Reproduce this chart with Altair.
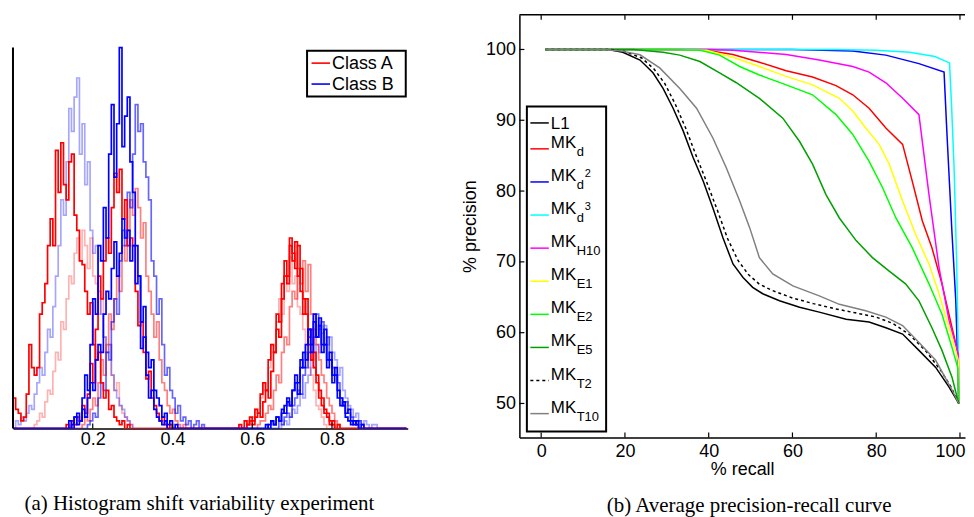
import altair as alt
import pandas as pd
import numpy as np

# ---------------- Panel (a): histogram bin counts ----------------
BIN_W = 1 / 150
N_BINS = 148
hist_class = ["Class A", "Class B", "Class A", "Class B", "Class A", "Class A", "Class B", "Class B"]
hist_alpha = [0.3, 0.35, 0.5, 0.6, 1.0, 1.0, 1.0, 1.0]
left_start = [8, 1, 26, 28, 20, 0, 22, 21]
left_counts = [
    [1, 2, 4, 3, 7, 10, 9, 15, 20, 18, 28, 26, 34, 40, 38, 46, 50, 44, 52, 48, 42, 50, 40, 38, 30, 34, 24, 20, 22, 14, 10, 12, 6, 4, 3, 2, 1],
    [2, 1, 3, 2, 4, 6, 5, 9, 12, 16, 14, 20, 26, 24, 32, 40, 48, 60, 56, 70, 84, 78, 87, 92, 72, 80, 64, 70, 52, 46, 48, 36, 30, 24, 20, 22, 14, 10, 8, 6, 5, 3, 2, 1],
    [1, 3, 2, 5, 8, 6, 12, 18, 14, 22, 30, 26, 34, 40, 36, 48, 44, 52, 60, 56, 63, 58, 50, 54, 40, 36, 30, 24, 28, 18, 12, 10, 6, 4, 5, 2, 1, 0, 1],
    [1, 2, 4, 3, 8, 12, 10, 20, 18, 28, 34, 30, 44, 52, 48, 62, 58, 72, 85, 78, 80, 70, 66, 60, 44, 40, 30, 34, 22, 14, 16, 10, 8, 4, 6, 2, 3, 1, 2, 0, 1, 2, 0, 1],
    [1, 0, 2, 1, 3, 2, 6, 4, 9, 17, 12, 26, 40, 34, 44, 50, 46, 58, 67, 62, 68, 55, 60, 48, 50, 48, 36, 27, 28, 20, 13, 15, 8, 6, 4, 2, 3, 1, 0, 1],
    [8, 5, 4, 2, 3, 9, 22, 16, 14, 16, 30, 33, 38, 48, 55, 48, 73, 62, 75, 64, 60, 70, 72, 56, 52, 44, 43, 36, 30, 33, 22, 18, 20, 12, 8, 10, 5, 6, 3, 2, 1, 2, 0, 1],
    [1, 3, 1, 2, 5, 3, 8, 12, 10, 18, 22, 20, 30, 36, 34, 42, 49, 40, 46, 55, 50, 52, 44, 48, 38, 40, 28, 32, 20, 16, 18, 10, 8, 6, 3, 4, 1, 2, 0, 1],
    [2, 0, 3, 4, 2, 8, 14, 10, 22, 34, 30, 48, 44, 58, 50, 72, 85, 66, 80, 100, 74, 82, 87, 70, 62, 48, 40, 21, 24, 14, 8, 10, 5, 3, 2, 1, 2],
]
right_start = [88, 101, 92, 100, 88, 85, 96, 95]
right_counts = [
    [2, 1, 3, 5, 4, 8, 12, 10, 16, 22, 20, 28, 34, 30, 40, 36, 45, 38, 40, 32, 30, 26, 20, 16, 14, 10, 6, 5, 3, 1],
    [1, 2, 1, 3, 5, 4, 6, 9, 8, 12, 14, 18, 16, 22, 20, 25, 27, 22, 24, 20, 18, 14, 16, 10, 8, 6, 5, 3, 4, 2, 1, 2, 1, 0, 1, 1],
    [1, 2, 2, 4, 6, 5, 10, 14, 12, 20, 24, 22, 32, 36, 34, 42, 38, 44, 36, 43, 30, 26, 22, 18, 14, 12, 8, 6, 4, 2, 1],
    [2, 1, 3, 4, 3, 6, 8, 10, 9, 14, 16, 20, 18, 24, 30, 26, 28, 22, 24, 18, 16, 14, 12, 8, 6, 7, 4, 3, 2, 1, 2, 1],
    [1, 2, 1, 3, 4, 3, 7, 10, 8, 15, 20, 26, 24, 34, 40, 38, 48, 44, 49, 40, 42, 34, 30, 24, 26, 16, 14, 10, 8, 5, 4, 2, 1],
    [1, 0, 2, 1, 3, 2, 5, 4, 9, 12, 10, 18, 22, 20, 30, 28, 38, 44, 40, 50, 46, 42, 48, 36, 30, 34, 22, 18, 20, 12, 8, 6, 4, 3, 1, 2, 0, 1],
    [1, 2, 1, 3, 2, 5, 4, 7, 6, 10, 12, 9, 16, 20, 18, 26, 22, 30, 24, 27, 20, 22, 16, 18, 12, 14, 8, 6, 7, 3, 2, 1, 2, 1],
    [1, 0, 2, 1, 3, 2, 4, 6, 8, 6, 10, 14, 12, 18, 16, 22, 26, 20, 28, 24, 29, 22, 26, 18, 20, 14, 16, 10, 8, 6, 4, 5, 2, 1, 2, 0, 1],
]
hist_ticks = [0.2, 0.4, 0.6, 0.8]
hist_legend = ["Class A", "Class B"]

# ---------------- Panel (b): precision-recall curves ----------------
curve_names = ["L1", "MKd", "MKd2", "MKd3", "MKH10", "MKE1", "MKE2", "MKE5", "MKT2", "MKT10"]
curve_colors = ["#000000", "#ff0000", "#0000ff", "#00ffff", "#ff00ff", "#ffff00", "#00ff00", "#00a000", "#000000", "#808080"]
recall = [
    [1, 16, 19.5, 23.6, 26.7, 29.1, 31.5, 33.9, 36.3, 38.7, 41.0, 43.4, 45.8, 48.2, 50.5, 52.9, 56.9, 61.7, 66.4, 72.8, 78.3, 82.3, 86.3, 90.2, 94.2, 97.4, 99.7],
    [1, 32, 39.5, 45.8, 52.1, 58.5, 64.8, 70.4, 74.4, 78.3, 82.3, 86.3, 88.6, 91.0, 93.3, 95.7, 98.1, 99.6, 99.7],
    [1, 60, 74.4, 82.3, 90.2, 96.2, 96.9, 98.1, 99.0, 99.5, 99.7],
    [1, 70, 80, 88, 94, 97.5, 98.0, 98.6, 99.2, 99.6, 99.7],
    [1, 40, 45.8, 58.5, 66.4, 74.4, 78.3, 82.3, 86.3, 90.2, 92.6, 95.0, 97.4, 99.6, 99.7],
    [1, 32, 39.5, 45.8, 52.1, 58.5, 64.8, 71.2, 74.4, 77.5, 80.7, 83.1, 86.3, 89.4, 92.6, 95.0, 97.4, 99.6, 99.7],
    [1, 30, 38, 42.6, 47.4, 52.1, 58.5, 64.8, 70.4, 74.4, 78.3, 81.5, 84.7, 88.6, 92.6, 95.7, 98.1, 99.5, 99.7],
    [1, 22, 29.1, 33.1, 37.9, 42.6, 46.6, 52.1, 57.7, 61.7, 64.8, 68.0, 71.2, 75.2, 79.1, 83.1, 87.0, 90.2, 93.3, 95.7, 98.1, 99.7],
    [1, 16.5, 20, 24, 27, 29.5, 32, 34.5, 37, 39.5, 42, 44.5, 47, 49.5, 52, 55, 60, 65, 70, 75, 80, 84, 88, 92, 95.5, 98, 99.7],
    [1, 15, 19, 23.6, 28.3, 33.1, 37.1, 41.0, 44.2, 47.4, 49.8, 52.1, 55.3, 60.1, 66.4, 71.2, 77.5, 82.3, 86.3, 90.2, 94.2, 98.2, 99.7],
]
precision = [
    [100, 100, 99.6, 98.5, 96.7, 94.5, 91.7, 88.5, 84.7, 81.4, 77.6, 73.4, 69.7, 67.8, 66.4, 65.5, 64.5, 63.6, 62.9, 61.9, 61.5, 60.7, 59.8, 57.5, 55.1, 52.3, 50],
    [100, 100, 99.9, 99.3, 98.2, 97.0, 96.1, 94.9, 93.6, 91.7, 88.9, 86.6, 81.4, 75.8, 72.0, 66.9, 60.7, 57.0, 50],
    [100, 100, 99.8, 99.2, 98.0, 96.8, 88, 74, 64.5, 55, 50],
    [100, 100, 99.9, 99.6, 99.0, 98.1, 92, 83.2, 70, 57.5, 50],
    [100, 100, 99.9, 99.3, 98.5, 97.6, 96.8, 95.3, 93.1, 90.8, 79.5, 69.2, 61.7, 57.0, 50],
    [100, 100, 99.9, 98.9, 97.6, 96.2, 95.0, 93.1, 91.3, 88.9, 86.6, 83.8, 78.6, 73.9, 69.7, 65.5, 60.7, 56.1, 50],
    [100, 100, 99.9, 99.2, 97.6, 96.4, 95.0, 93.6, 90.8, 88.0, 84.2, 80.5, 76.2, 72.0, 66.9, 62.6, 57.9, 55.0, 50],
    [100, 100, 99.6, 99.2, 98.3, 96.7, 95.3, 93.1, 90.3, 87.0, 83.8, 79.5, 76.2, 73.0, 70.6, 68.7, 66.9, 64.5, 60.7, 57.5, 53.7, 50],
    [100, 100, 99.7, 98.8, 97.2, 95.2, 92.3, 88.9, 85.0, 81.3, 77.4, 73.3, 70.2, 68.2, 66.9, 66.0, 64.9, 64.1, 63.4, 62.8, 62.2, 61.3, 59.7, 57.3, 54.6, 52.2, 50],
    [100, 100, 99.8, 99.25, 97.4, 94.5, 91.7, 87.5, 83.3, 78.6, 74.8, 70.6, 68.3, 66.6, 65.2, 64.0, 63.1, 62.2, 61.0, 58.6, 56.1, 51.8, 50],
]
# legend labels: main text, subscript, superscript on the subscript
leg_main = ["L1", "MK", "MK", "MK", "MK", "MK", "MK", "MK", "MK", "MK"]
leg_sub = ["", "d", "d", "d", "H10", "E1", "E2", "E5", "T2", "T10"]
leg_sup = ["", "", "2", "3", "", "", "", "", "", ""]
recall_ticks = [0, 20, 40, 60, 80, 100]
precision_ticks = [50, 60, 70, 80, 90, 100]

SANS = "Liberation Sans"
SERIF = "Liberation Serif"
one = pd.DataFrame({"a": [0]})

# ================= Panel (a) =================
WA, HA = 396, 415
xa = alt.Scale(domain=[0, 0.99], nice=False, zero=False)
ya = alt.Scale(domain=[0, 108.6], nice=False, zero=False)

hist_layers = []
for k in range(len(hist_class)):
    counts = np.zeros(N_BINS)
    counts[left_start[k]:left_start[k] + len(left_counts[k])] = left_counts[k]
    counts[right_start[k]:right_start[k] + len(right_counts[k])] = right_counts[k]
    xs = [0.0] + [i * BIN_W for i in range(N_BINS)] + [N_BINS * BIN_W]
    ys = [0.0] + list(counts) + [0.0]
    df = pd.DataFrame({"x": xs, "y": ys, "idx": range(len(xs)), "cls": hist_class[k]})
    layer = alt.Chart(df).mark_line(interpolate="step-after", strokeWidth=1.7, clip=True,
                                    opacity=hist_alpha[k]).encode(
        x=alt.X("x:Q", scale=xa, axis=alt.Axis(values=hist_ticks, format=".1f", ticks=False,
                                                labelPadding=2, title=None, domainColor="black",
                                                domainWidth=1.5)),
        y=alt.Y("y:Q", scale=ya, axis=None),
        order="idx:Q",
        color=alt.Color("cls:N", scale=alt.Scale(domain=hist_legend, range=["#ff0000", "#0000ff"]),
                        legend=None),
    )
    hist_layers.append(layer)

yaxis_a = alt.Chart(one).mark_rule(color="black", strokeWidth=2).encode(
    x=alt.datum(0), y=alt.datum(0), y2=alt.datum(100))
ticks_a = alt.Chart(pd.DataFrame({"t": hist_ticks})).mark_rule(color="black", strokeWidth=1.2).encode(
    x="t:Q", y=alt.value(HA), y2=alt.value(HA - 5))

leg_a_box = alt.Chart(one).mark_rect(fill="white", stroke="black", strokeWidth=2).encode(
    x=alt.value(295), x2=alt.value(394), y=alt.value(36), y2=alt.value(82))
leg_a = [leg_a_box]
for i, (lab, col) in enumerate(zip(hist_legend, ["#ff0000", "#0000ff"])):
    yy = 48.5 + 21 * i
    leg_a.append(alt.Chart(one).mark_rule(color=col, strokeWidth=1.6).encode(
        x=alt.value(299.5), x2=alt.value(318), y=alt.value(yy)))
    leg_a.append(alt.Chart(one).mark_text(text=lab, font=SANS, fontSize=18, align="left",
                                          baseline="middle", color="black").encode(
        x=alt.value(320), y=alt.value(yy + 1)))

panel_a = alt.layer(*hist_layers, yaxis_a, ticks_a, *leg_a).properties(
    width=WA, height=HA,
    title=alt.TitleParams("(a) Histogram shift variability experiment", orient="bottom",
                          font=SERIF, fontSize=21, fontWeight="normal", color="black",
                          offset=45, dx=-11, anchor="middle"),
)

# ================= Panel (b) =================
WB, HB = 447, 424
xb = alt.Scale(domain=[-5.2, 101.2], nice=False, zero=False)
yb = alt.Scale(domain=[45.2, 104.9], nice=False, zero=False)

curve_layers = []
for k, name in enumerate(curve_names):
    df = pd.DataFrame({"r": recall[k], "p": precision[k], "idx": range(len(recall[k]))})
    mk = dict(strokeWidth=1.5, color=curve_colors[k], clip=True)
    if name == "MKT2":
        mk["strokeDash"] = [3, 3]
    curve_layers.append(alt.Chart(df).mark_line(**mk).encode(
        x=alt.X("r:Q", scale=xb, axis=alt.Axis(values=recall_ticks, ticks=False, labelPadding=5,
                                                labelFlush=8, labelFlushOffset=5,
                                                title="% recall", titlePadding=0,
                                                domainColor="black", domainWidth=1.5)),
        y=alt.Y("p:Q", scale=yb, axis=alt.Axis(values=precision_ticks, ticks=False, labelPadding=4,
                                                title="% precision", titlePadding=6,
                                                domainColor="black", domainWidth=1.5)),
        order="idx:Q",
    ))

top_frame = alt.Chart(one).mark_rule(color="black", strokeWidth=1.5).encode(
    x=alt.value(0), x2=alt.value(WB), y=alt.value(0))
xt_df = pd.DataFrame({"t": recall_ticks})
ticks_bottom = alt.Chart(xt_df).mark_rule(color="black", strokeWidth=1.2).encode(
    x=alt.X("t:Q", scale=xb), y=alt.value(HB), y2=alt.value(HB - 5))
ticks_top = alt.Chart(xt_df).mark_rule(color="black", strokeWidth=1.2).encode(
    x=alt.X("t:Q", scale=xb), y=alt.value(0), y2=alt.value(5))
ticks_left = alt.Chart(pd.DataFrame({"v": precision_ticks})).mark_rule(color="black", strokeWidth=1.2).encode(
    y=alt.Y("v:Q", scale=yb), x=alt.value(0), x2=alt.value(5))

leg_b = [alt.Chart(one).mark_rect(fill="white", stroke="black", strokeWidth=2).encode(
    x=alt.value(7.5), x2=alt.value(87), y=alt.value(92), y2=alt.value(418))]
row_y = [108.5] + [134.5 + 33.2 * (i - 1) for i in range(1, len(curve_names))]
for i in range(len(curve_names)):
    yy = row_y[i]
    rule_kw = dict(color=curve_colors[i], strokeWidth=1.5)
    if curve_names[i] == "MKT2":
        rule_kw["strokeDash"] = [3, 3]
    leg_b.append(alt.Chart(one).mark_rule(**rule_kw).encode(
        x=alt.value(11), x2=alt.value(29.5), y=alt.value(yy)))
    if leg_sub[i] == "":
        leg_b.append(alt.Chart(one).mark_text(text=leg_main[i], font=SANS, fontSize=17, align="left",
                                              baseline="middle", color="black").encode(
            x=alt.value(31.5), y=alt.value(yy + 1)))
    else:
        leg_b.append(alt.Chart(one).mark_text(text=leg_main[i], font=SANS, fontSize=17, align="left",
                                              baseline="alphabetic", color="black").encode(
            x=alt.value(31.5), y=alt.value(yy - 1)))
        leg_b.append(alt.Chart(one).mark_text(text=leg_sub[i], font=SANS, fontSize=13, align="left",
                                              baseline="alphabetic", color="black").encode(
            x=alt.value(57.5), y=alt.value(yy + 7)))
        if leg_sup[i]:
            leg_b.append(alt.Chart(one).mark_text(text=leg_sup[i], font=SANS, fontSize=11, align="left",
                                                  baseline="alphabetic", color="black").encode(
                x=alt.value(65.5), y=alt.value(yy - 5)))

panel_b = alt.layer(*curve_layers, top_frame, ticks_bottom, ticks_top, ticks_left, *leg_b).properties(
    width=WB, height=HB,
    title=alt.TitleParams("(b) Average precision-recall curve", orient="bottom",
                          font=SERIF, fontSize=21, fontWeight="normal", color="black",
                          offset=17, dx=7, anchor="middle"),
)

chart = alt.hconcat(panel_a, panel_b, spacing=53).properties(
    padding={"left": 4, "top": 5, "right": 0, "bottom": 0}
).configure_view(stroke=None).configure_axis(
    grid=False, labelFont=SANS, labelFontSize=18, labelColor="black",
    titleFont=SANS, titleFontSize=18, titleFontWeight="normal", titleColor="black",
)

chart.save("out.html", embed_options={"renderer": "svg", "actions": False})
